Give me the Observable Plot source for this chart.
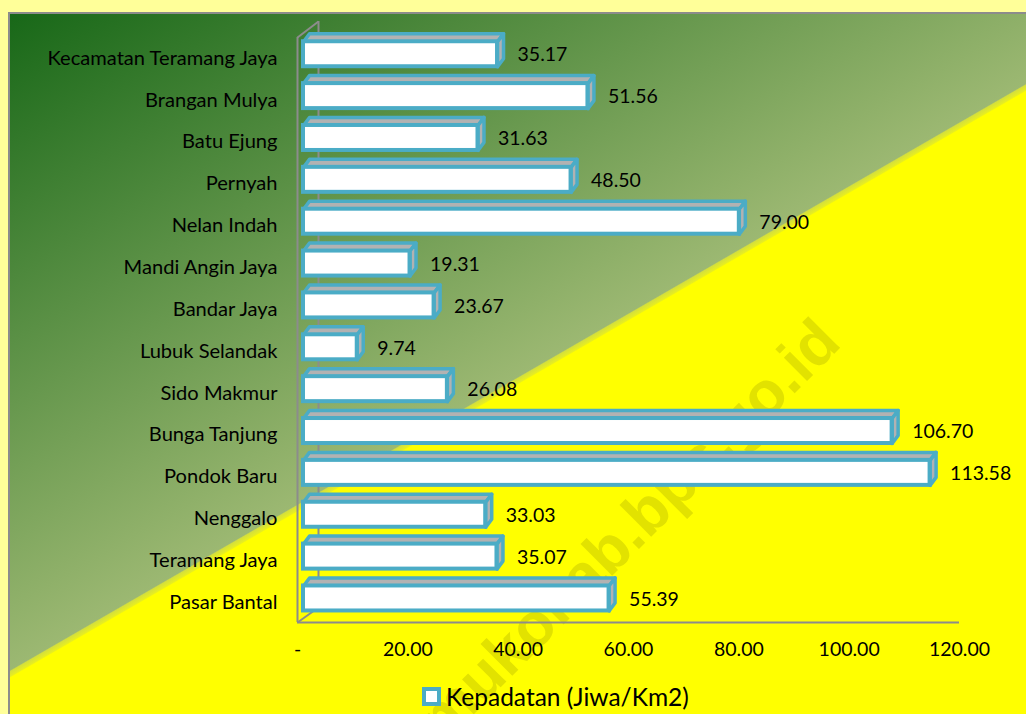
<!DOCTYPE html>
<html>
<head>
<meta charset="utf-8">
<script src="https://cdn.jsdelivr.net/npm/d3@7"></script>
<script src="https://cdn.jsdelivr.net/npm/@observablehq/plot@0.6"></script>
<style>
  html, body { margin: 0; padding: 0; background: #ffff99; }
  #wrap { position: relative; width: 1026px; height: 714px; overflow: hidden; background: #ffff99; font-family: Lato, "Noto Sans", sans-serif; }
  #panel { position: absolute; left: 8px; top: 12px; width: 1018px; height: 702px;
    border-top: 2px solid #8c8c8c; border-left: 2px solid #8c8c8c; box-sizing: border-box;
    background: linear-gradient(150deg, #186818 0%, #9cb872 51.0%, #d4df3c 51.1%, #e8ee20 51.5%, #ffff00 51.6%, #ffff00 100%); }
  #wm { position: absolute; left: 0; top: 0; }
  #chart { position: absolute; left: 0; top: 0; }
  #legend { position: absolute; left: 422px; top: 682px; display: flex; align-items: center; font-family: Lato, sans-serif; font-size: 24.5px; color: #000; }
  #legend .sw { width: 11px; height: 11px; border: 4px solid #4bacc6; background: #fff; margin-right: 5px; }
</style>
</head>
<body>
<div id="wrap">
  <div id="panel"></div>
  <svg id="wm" width="1026" height="714"><text x="843" y="345" transform="rotate(-45 843 345)" text-anchor="end" font-family="Liberation Sans, Arial, sans-serif" font-weight="bold" font-size="62" fill="#8c8c00" fill-opacity="0.25">mukomukokab.bps.go.id</text></svg>
  <div id="chart"></div>
  <div id="legend"><div class="sw"></div><span id="legtext"></span></div>
</div>
<script>
const categories = ["Kecamatan Teramang Jaya","Brangan Mulya","Batu Ejung","Pernyah","Nelan Indah","Mandi Angin Jaya","Bandar Jaya","Lubuk Selandak","Sido Makmur","Bunga Tanjung","Pondok Baru","Nenggalo","Teramang Jaya","Pasar Bantal"];
const values = [35.17, 51.56, 31.63, 48.50, 79.00, 19.31, 23.67, 9.74, 26.08, 106.70, 113.58, 33.03, 35.07, 55.39];
const xTicks = [0, 20, 40, 60, 80, 100, 120];
const seriesName = "Kepadatan (Jiwa/Km2)";

document.getElementById("legtext").textContent = seriesName;

const X0 = 303, X1 = 965, Y0 = 37, Y1 = 622;
const yDom = [-0.4, 13.574];
const kx = 120 / (X1 - X0);
const ky = (yDom[1] - yDom[0]) / (Y1 - Y0);
const dX = 6 * kx, dY = 8 * ky, h = 12.5 * ky;

const bars = values.map((v, i) => ({i, v, name: categories[i]}));
const topFaces = bars.flatMap(b => [[0, b.i - h], [b.v, b.i - h], [b.v + dX, b.i - h - dY], [dX, b.i - h - dY], [0, b.i - h]]
  .map(([x, y]) => ({id: b.i, x, y})));
const sideFaces = bars.flatMap(b => [[b.v, b.i - h], [b.v + dX, b.i - h - dY], [b.v + dX, b.i + h - dY], [b.v, b.i + h], [b.v, b.i - h]]
  .map(([x, y]) => ({id: b.i, x, y})));

const blue = "#4bacc6", gray = "#b2b2b2", frame = "#8c8c8c";

const chart = Plot.plot({
  width: 1026,
  height: 672,
  marginLeft: 297,
  marginBottom: 50,
  marginTop: 0,
  marginRight: 0,
  style: {background: "transparent", fontFamily: "Lato, sans-serif", fontSize: "19.5px", color: "#000"},
  x: {domain: [0, 120], range: [X0, X1]},
  y: {domain: yDom, range: [Y0, Y1]},
  marks: [
    // back wall and frame edges
    Plot.ruleX([0], {y1: yDom[0] - 16 * ky, y2: yDom[1] - 15 * ky, dx: 15, stroke: frame, strokeWidth: 2}),
    Plot.link([0], {x1: -6 * kx, y1: yDom[0], x2: 15 * kx, y2: yDom[0] - 16 * ky, stroke: frame, strokeWidth: 2}),
    Plot.link([0], {x1: -6 * kx, y1: yDom[1], x2: 15 * kx, y2: yDom[1] - 15 * ky, stroke: frame, strokeWidth: 2}),
    Plot.ruleX([0], {y1: yDom[0], y2: yDom[1], dx: -6, stroke: frame, strokeWidth: 2}),
    Plot.ruleY([yDom[1]], {x1: 0, x2: 120, dx: -6, stroke: frame, strokeWidth: 2}),
    // 3D bars
    Plot.line(topFaces, {x: "x", y: "y", z: "id", fill: gray, stroke: blue, strokeWidth: 3.5, strokeLinejoin: "round"}),
    Plot.line(sideFaces, {x: "x", y: "y", z: "id", fill: gray, stroke: blue, strokeWidth: 3.5, strokeLinejoin: "round"}),
    Plot.rect(bars, {x1: d => 0, x2: "v", y1: d => d.i - h, y2: d => d.i + h, fill: "white", stroke: blue, strokeWidth: 4}),
    Plot.text(bars, {x: "v", y: "i", text: d => d.v.toFixed(2), dx: 20, textAnchor: "start", fill: "#000", dy: 1}),
    // axes
    Plot.axisY(d3.range(categories.length), {anchor: "left", tickSize: 0, tickPadding: 20, tickFormat: i => categories[i], dy: 4, label: null, fill: "#000", fontSize: 20.1}),
    Plot.axisX(xTicks, {anchor: "bottom", tickSize: 0, tickPadding: 20, tickFormat: d => d === 0 ? "-" : d.toFixed(2), dx: -6, label: null, fill: "#000"})
  ]
});
document.getElementById("chart").appendChild(chart);
</script>
</body>
</html>
